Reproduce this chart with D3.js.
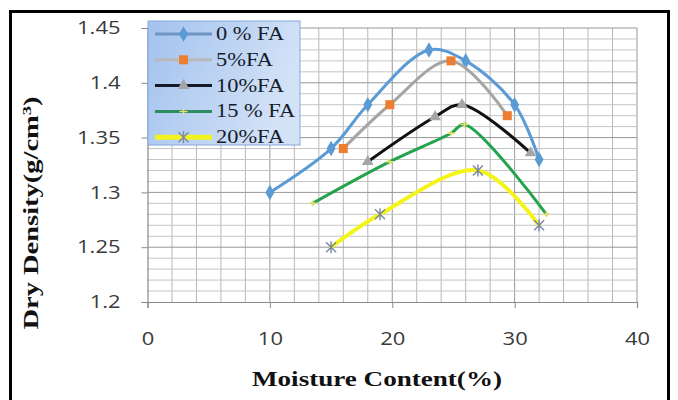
<!DOCTYPE html>
<html><head><meta charset="utf-8">
<script src="https://cdn.jsdelivr.net/npm/d3@7"></script>
<style>
html,body{margin:0;padding:0;background:#fff;}
svg{display:block;}
</style></head>
<body><svg id="c" width="678" height="400"></svg>
<script>
// ---- data ----
const seriesNames = ["0 % FA", "5%FA", "10%FA", "15 % FA", "20%FA"];
const fa0x  = [10, 15, 18, 23, 26, 30, 32];
const fa0y  = [1.30, 1.34, 1.38, 1.43, 1.42, 1.38, 1.33];
const fa5x  = [16, 19.8, 24.8, 29.4];
const fa5y  = [1.34, 1.38, 1.42, 1.37];
const fa10x = [18, 23.5, 25.7, 31.3];
const fa10y = [1.328, 1.369, 1.38, 1.336];
const fa15x = [13.5, 19.8, 24.8, 25.9, 32.6];
const fa15y = [1.29, 1.328, 1.354, 1.362, 1.28];
const fa20x = [15, 19, 27, 32];
const fa20y = [1.25, 1.28, 1.32, 1.27];
const xTicks = [0, 10, 20, 30, 40];
const yTicks = [1.2, 1.25, 1.3, 1.35, 1.4, 1.45];

const svg = d3.select("#c");
const L = 147.5, R = 637, T = 28, B = 302;
const x = d3.scaleLinear().domain([0, 40]).range([L, R]);
const y = d3.scaleLinear().domain([1.2, 1.45]).range([B, T]);

// outer frame
svg.append("rect").attr("x", 10.5).attr("y", 11.5).attr("width", 658).attr("height", 400)
  .attr("fill", "#fff").attr("stroke", "#000").attr("stroke-width", 3);

// gridlines
const g = svg.append("g");
d3.range(1, 21).forEach(i => {
  const v = i * 2;
  g.append("line").attr("x1", x(v)).attr("x2", x(v)).attr("y1", T).attr("y2", B)
    .attr("stroke", v % 10 === 0 ? "#979797" : "#b8b8b8").attr("stroke-width", 1);
});
d3.range(1, 26).forEach(i => {
  const v = 1.2 + i * 0.01;
  g.append("line").attr("x1", L).attr("x2", R).attr("y1", y(v)).attr("y2", y(v))
    .attr("stroke", i % 5 === 0 ? "#979797" : "#c4c4c4").attr("stroke-width", 1);
});

// axes
const stretch = (sel, f) => sel.each(function(){
  const w = this.getComputedTextLength();
  this.setAttribute("textLength", w * f);
  this.setAttribute("lengthAdjust", "spacingAndGlyphs");
});
const xa = svg.append("g").attr("transform", `translate(0,${B})`)
  .call(d3.axisBottom(x).tickValues(xTicks).tickSize(6).tickPadding(24).tickFormat(d3.format("d")));
const ya = svg.append("g").attr("transform", `translate(${L},0)`)
  .call(d3.axisLeft(y).tickValues(yTicks).tickSize(6).tickPadding(21).tickFormat(d => d3.format("~g")(d)));
[xa, ya].forEach(a => {
  a.select(".domain").attr("stroke", "#8a8a8a").attr("stroke-width", 1.2);
  a.selectAll(".tick line").attr("stroke", "#8a8a8a");
  a.selectAll("text").attr("fill", "#3a3a3a").style("font-family", "'Open Sans', sans-serif").style("font-size", "18px");
  stretch(a.selectAll("text"), 1.22);
});

// series
const series = [
  {xs: fa0x, ys: fa0y, color: "#5b9bd5", w: 3, marker: "diamond", mcolor: "#5b9bd5"},
  {xs: fa5x, ys: fa5y, color: "#a5a5a5", w: 3, marker: "square", mcolor: "#ed7d31"},
  {xs: fa10x, ys: fa10y, color: "#111111", w: 3, marker: "triangle", mcolor: "#a5a5a5"},
  {xs: fa15x, ys: fa15y, color: "#22a34c", w: 3, marker: "dash", mcolor: "#e8e070"},
  {xs: fa20x, ys: fa20y, color: "#f4f41a", w: 4, marker: "star", mcolor: "#7a86a8"}
];
function drawMarker(sel, type, color, cx, cy) {
  if (type === "diamond") sel.append("path").attr("d", d3.symbol(d3.symbolDiamond, 70)()).attr("transform", `translate(${cx},${cy})`).attr("fill", color);
  else if (type === "square") sel.append("rect").attr("x", cx - 4.5).attr("y", cy - 4.5).attr("width", 9).attr("height", 9).attr("fill", color);
  else if (type === "triangle") sel.append("path").attr("d", d3.symbol(d3.symbolTriangle, 60)()).attr("transform", `translate(${cx},${cy})`).attr("fill", color);
  else if (type === "dash") sel.append("path").attr("d", "M-4,0H4M0,-3V3").attr("transform", `translate(${cx},${cy})`).attr("stroke", color).attr("stroke-width", 1.5);
  else if (type === "star") sel.append("path").attr("d", "M-5,-5L5,5M-5,5L5,-5M0,-6V6").attr("transform", `translate(${cx},${cy})`).attr("stroke", color).attr("stroke-width", 1.4).attr("fill", "none");
}
const line = d3.line().x(d => x(d[0])).y(d => y(d[1])).curve(d3.curveCatmullRom.alpha(0.5));
const sg = svg.append("g");
series.forEach(s => {
  const pts = s.xs.map((v, i) => [v, s.ys[i]]);
  sg.append("path").attr("d", line(pts)).attr("fill", "none").attr("stroke", s.color)
    .attr("stroke-width", s.w).attr("stroke-linejoin", "round").attr("stroke-linecap", "round");
  pts.forEach(p => drawMarker(sg, s.marker, s.mcolor, x(p[0]), y(p[1])));
});

// legend
const defs = svg.append("defs");
const grad = defs.append("linearGradient").attr("id", "lg").attr("x1", 0).attr("x2", 1).attr("y1", 0).attr("y2", 0.3);
grad.append("stop").attr("offset", 0).attr("stop-color", "#a3c2ee");
grad.append("stop").attr("offset", 1).attr("stop-color", "#d3e2f7");
const lg = svg.append("g");
lg.append("rect").attr("x", 148).attr("y", 21).attr("width", 152).attr("height", 124)
  .attr("fill", "url(#lg)").attr("stroke", "#86a9da").attr("stroke-width", 1);
const legColors = ["#6e95c4", "#b9b9b9", "#141a2a", "#2e8c63", "#f2f21e"];
series.forEach((s, i) => {
  const cy = 34 + i * 25.8;
  lg.append("line").attr("x1", 155).attr("x2", 212).attr("y1", cy).attr("y2", cy)
    .attr("stroke", legColors[i]).attr("stroke-width", i === 4 ? 5 : 3);
  drawMarker(lg, s.marker, s.mcolor, 183.5, cy);
  const t = lg.append("text").attr("x", 216).attr("y", cy + 6).text(seriesNames[i])
    .attr("fill", "#161c2c").style("font-family", "'Liberation Serif', serif").style("font-size", "19px");
  stretch(t, 1.18);
});

// axis titles
const xt = svg.append("text").attr("x", 377).attr("y", 386).attr("text-anchor", "middle")
  .style("font-family", "'Liberation Serif', serif").style("font-weight", "bold").style("font-size", "22px")
  .attr("fill", "#111").text("Moisture Content(%)");
xt.attr("textLength", 250).attr("lengthAdjust", "spacingAndGlyphs");
const yt = svg.append("text").attr("transform", "translate(38,213) rotate(-90)").attr("text-anchor", "middle")
  .style("font-family", "'Liberation Serif', serif").style("font-weight", "bold").style("font-size", "20px")
  .attr("fill", "#111");
yt.append("tspan").text("Dry Density(g/cm");
yt.append("tspan").attr("dy", -7).style("font-size", "13px").text("3");
yt.append("tspan").attr("dy", 7).text(")");
yt.attr("textLength", 233).attr("lengthAdjust", "spacingAndGlyphs");
</script>
</body></html>
